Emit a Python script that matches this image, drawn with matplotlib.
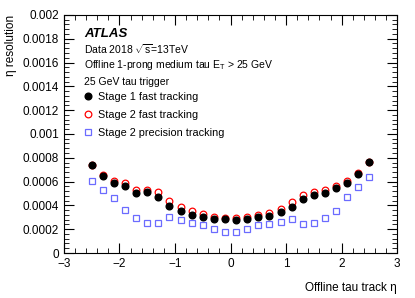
import numpy as np
import matplotlib
matplotlib.use("Agg")
import matplotlib.pyplot as plt
from matplotlib.ticker import MultipleLocator

plt.rcParams['font.family'] = ['Liberation Sans', 'DejaVu Sans']
plt.rcParams['mathtext.fontset'] = 'custom'
plt.rcParams['mathtext.rm'] = 'Liberation Sans'

# Datos
eta = [-2.5, -2.3, -2.1, -1.9, -1.7, -1.5, -1.3, -1.1, -0.9, -0.7, -0.5, -0.3, -0.1,
       0.1, 0.3, 0.5, 0.7, 0.9, 1.1, 1.3, 1.5, 1.7, 1.9, 2.1, 2.3, 2.5]
stage1_fast = [0.000742, 0.000647, 0.000591, 0.000566, 0.000507, 0.000510, 0.000471,
               0.000398, 0.000350, 0.000319, 0.000305, 0.000288, 0.000286,
               0.000280, 0.000288, 0.000300, 0.000308, 0.000342, 0.000389, 0.000454,
               0.000490, 0.000501, 0.000543, 0.000585, 0.000667, 0.000767]
stage2_fast = [0.000742, 0.000653, 0.000605, 0.000588, 0.000527, 0.000529, 0.000510,
               0.000437, 0.000384, 0.000350, 0.000330, 0.000305, 0.000297,
               0.000291, 0.000305, 0.000317, 0.000336, 0.000373, 0.000429, 0.000487,
               0.000513, 0.000527, 0.000566, 0.000605, 0.000672, 0.000767]
stage2_prec = [0.000605, 0.000529, 0.000460, 0.000359, 0.000294, 0.000252, 0.000249,
               0.000303, 0.000277, 0.000252, 0.000238, 0.000204, 0.000176,
               0.000176, 0.000204, 0.000233, 0.000244, 0.000260, 0.000286, 0.000246,
               0.000252, 0.000297, 0.000356, 0.000468, 0.000552, 0.000639]
ytick_vals = [0, 0.0002, 0.0004, 0.0006, 0.0008, 0.001, 0.0012, 0.0014, 0.0016, 0.0018, 0.002]
ytick_labels = ['0', '0.0002', '0.0004', '0.0006', '0.0008', '0.001',
                '0.0012', '0.0014', '0.0016', '0.0018', '0.002']

fig = plt.figure(figsize=(4.15, 2.98), dpi=100)
ax = fig.add_axes([0.154, 0.151, 0.803, 0.799])

ax.plot(eta, stage2_prec, ls='none', marker='s', ms=4.8, mfc='none', mec='#6b6bff', mew=0.9,
        label='Stage 2 precision tracking')
ax.plot(eta, stage2_fast, ls='none', marker='o', ms=4.8, mfc='none', mec='red', mew=0.9,
        label='Stage 2 fast tracking')
ax.plot(eta, stage1_fast, ls='none', marker='o', ms=4.8, color='black',
        label='Stage 1 fast tracking')

ax.set_xlim(-3, 3)
ax.set_ylim(0, 0.002)
ax.xaxis.set_major_locator(MultipleLocator(1))
ax.xaxis.set_minor_locator(MultipleLocator(0.2))
ax.set_yticks(ytick_vals)
ax.set_yticklabels(ytick_labels)
ax.yaxis.set_minor_locator(MultipleLocator(0.00004))
ax.tick_params(which='both', direction='in', top=True, right=True, labelsize=8.5)
ax.tick_params(which='major', length=7)
ax.tick_params(which='minor', length=3.5)

ax.set_xlabel('Offline tau track \u03b7', fontsize=8.5, loc='right', labelpad=9)
ax.set_ylabel('\u03b7 resolution', fontsize=8.5, loc='top')

# Textos
ax.text(0.06, 0.92, 'ATLAS', transform=ax.transAxes, fontsize=9.5,
        fontweight='bold', fontstyle='italic', va='center')
ax.text(0.06, 0.855, r'Data 2018 $\sqrt{\mathrm{s}}$=13TeV', transform=ax.transAxes,
        fontsize=7.5, va='center')
ax.text(0.06, 0.79, r'Offline 1-prong medium tau E$_{\mathrm{T}}$ > 25 GeV',
        transform=ax.transAxes, fontsize=7.5, va='center')
ax.text(0.06, 0.72, '25 GeV tau trigger', transform=ax.transAxes, fontsize=7.5, va='center')

handles, labels = ax.get_legend_handles_labels()
leg = ax.legend(handles[::-1], labels[::-1], loc='upper left',
                bbox_to_anchor=(0.035, 0.695), frameon=False, fontsize=7.8,
                handletextpad=0.2, labelspacing=0.75, handlelength=1.5,
                borderaxespad=0)

fig.savefig('out.png', dpi=100)
